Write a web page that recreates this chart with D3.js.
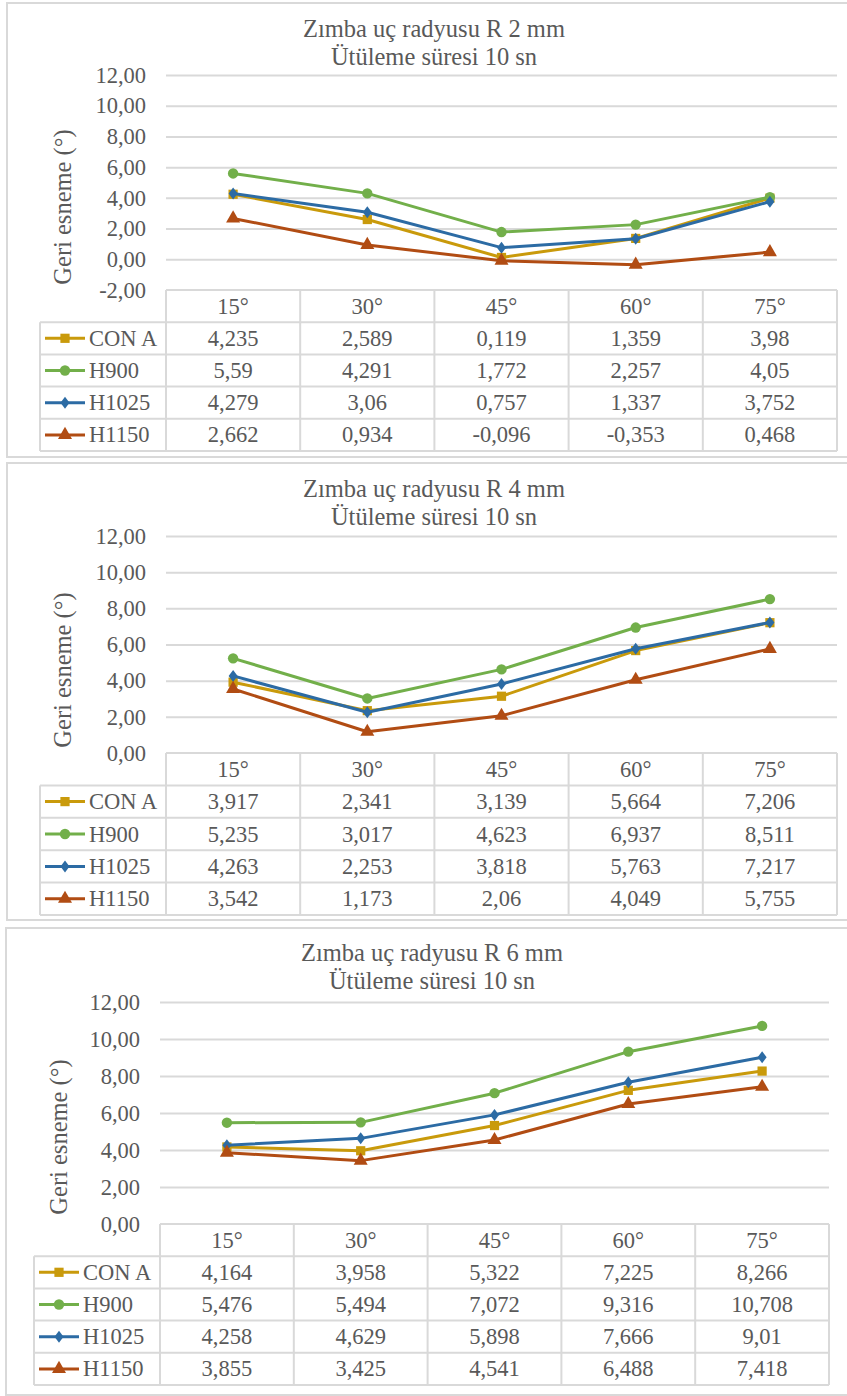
<!DOCTYPE html>
<html>
<head>
<meta charset="utf-8">
<script src="https://cdn.jsdelivr.net/npm/d3@7"></script>
<style>
  html, body { margin: 0; padding: 0; background: #fff; }
  svg { display: block; }
</style>
</head>
<body>
<svg id="chart" width="847" height="1396" font-family="'Liberation Serif', 'Times New Roman', serif"></svg>
<script>
// Springback angle (Geri esneme) by bend angle, for three punch tip radii
const categories = ["15°", "30°", "45°", "60°", "75°"];
const seriesNames = ["CON A", "H900", "H1025", "H1150"];
const seriesColors = ["#C99A0B", "#72AF4A", "#2C6BA4", "#B14C13"];
const seriesMarkers = ["square", "circle", "diamond", "triangle"];

const titlesR2 = ["Zımba uç radyusu R 2 mm", "Ütüleme süresi 10 sn"];
const titlesR4 = ["Zımba uç radyusu R 4 mm", "Ütüleme süresi 10 sn"];
const titlesR6 = ["Zımba uç radyusu R 6 mm", "Ütüleme süresi 10 sn"];
const yAxisTitle = "Geri esneme (°)";

// R 2 mm
const r2ConA  = [4.235, 2.589, 0.119, 1.359, 3.98];
const r2H900  = [5.59, 4.291, 1.772, 2.257, 4.05];
const r2H1025 = [4.279, 3.06, 0.757, 1.337, 3.752];
const r2H1150 = [2.662, 0.934, -0.096, -0.353, 0.468];
const r2Ticks = [-2, 0, 2, 4, 6, 8, 10, 12];

// R 4 mm
const r4ConA  = [3.917, 2.341, 3.139, 5.664, 7.206];
const r4H900  = [5.235, 3.017, 4.623, 6.937, 8.511];
const r4H1025 = [4.263, 2.253, 3.818, 5.763, 7.217];
const r4H1150 = [3.542, 1.173, 2.06, 4.049, 5.755];
const r4Ticks = [0, 2, 4, 6, 8, 10, 12];

// R 6 mm
const r6ConA  = [4.164, 3.958, 5.322, 7.225, 8.266];
const r6H900  = [5.476, 5.494, 7.072, 9.316, 10.708];
const r6H1025 = [4.258, 4.629, 5.898, 7.666, 9.01];
const r6H1150 = [3.855, 3.425, 4.541, 6.488, 7.418];
const r6Ticks = [0, 2, 4, 6, 8, 10, 12];

const locale = d3.formatLocale({ decimal: ",", thousands: ".", grouping: [3], currency: ["", ""], minus: "-" });
const tickFmt = locale.format(".2f");
const valueFmt = v => String(v).replace(".", ",");

const FONT = "'Liberation Serif', 'Times New Roman', serif";
const TEXT = "#595959";
const GRID = "#D9D9D9";
const LABEL_SIZE = "22.5px";
const TITLE_SIZE = "24.5px";
const svg = d3.select("#chart");

function markerPath(type) {
  if (type === "square") return d3.symbol(d3.symbolSquare, 85)();
  if (type === "circle") return d3.symbol(d3.symbolCircle, 85)();
  if (type === "diamond") return "M0,-6L4.5,0L0,6L-4.5,0Z";
  return d3.symbol(d3.symbolTriangle, 85)();
}

function drawPanel(cfg) {
  const g = svg.append("g");

  // chart area frame
  g.append("rect")
    .attr("x", cfg.frame[0]).attr("y", cfg.frame[1])
    .attr("width", cfg.frame[2]).attr("height", cfg.frame[3])
    .attr("fill", "#fff").attr("stroke", GRID).attr("stroke-width", 2);

  const x = d3.scaleBand().domain(categories).range([cfg.left, cfg.right]);
  const y = d3.scaleLinear().domain([cfg.ticks[0], cfg.ticks[cfg.ticks.length - 1]])
    .range([cfg.yBottom, cfg.yTop]);

  // title
  const title = g.append("text").attr("text-anchor", "middle")
    .style("font-size", TITLE_SIZE);
  cfg.titles.forEach((t, i) => {
    title.append("tspan").attr("x", cfg.titleX).attr("y", cfg.titleY + i * 28).text(t);
  });

  // gridlines + tick labels
  const yAxis = d3.axisLeft(y).tickValues(cfg.ticks).tickFormat(tickFmt)
    .tickSize(-(cfg.right - cfg.left)).tickPadding(20);
  const ax = g.append("g").attr("transform", `translate(${cfg.left},0)`).call(yAxis);
  ax.attr("font-family", FONT);
  ax.select(".domain").remove();
  ax.selectAll(".tick line").attr("stroke", GRID).attr("stroke-width", 2);
  ax.selectAll(".tick text")
    .attr("x", cfg.tickRight - cfg.left)
    .style("font-size", LABEL_SIZE);
  // the bottom tick's gridline coincides with the table top
  ax.selectAll(".tick").filter(d => d === cfg.ticks[0]).select("line").remove();

  // y-axis title
  g.append("text")
    .attr("transform", `translate(${cfg.yTitleX},${cfg.yTitleY}) rotate(-90)`)
    .attr("text-anchor", "middle").attr("dominant-baseline", "central")
    .style("font-size", TITLE_SIZE)
    .text(yAxisTitle);

  // data table
  const rowH = cfg.rowH;
  const tTop = cfg.yBottom;
  const nRows = seriesNames.length;
  const tb = g.append("g");
  const lines = [];
  lines.push([cfg.left, tTop, cfg.right, tTop]);
  lines.push([cfg.tableLeft, tTop + rowH, cfg.right, tTop + rowH]);
  for (let r = 2; r <= nRows + 1; r++) lines.push([cfg.tableLeft, tTop + r * rowH, cfg.right, tTop + r * rowH]);
  lines.push([cfg.tableLeft, tTop + rowH, cfg.tableLeft, tTop + (nRows + 1) * rowH]);
  categories.forEach(c => lines.push([x(c), tTop, x(c), tTop + (nRows + 1) * rowH]));
  lines.push([cfg.right, tTop, cfg.right, tTop + (nRows + 1) * rowH]);
  tb.selectAll("line").data(lines).join("line")
    .attr("x1", d => d[0]).attr("y1", d => d[1]).attr("x2", d => d[2]).attr("y2", d => d[3])
    .attr("stroke", GRID).attr("stroke-width", 2);

  // header labels
  tb.selectAll("text.cat").data(categories).join("text").attr("class", "cat")
    .attr("x", d => x(d) + x.bandwidth() / 2).attr("y", tTop + rowH / 2)
    .attr("text-anchor", "middle").attr("dominant-baseline", "central")
    .style("font-size", LABEL_SIZE).text(d => d);

  cfg.series.forEach((vals, si) => {
    const cy = tTop + (si + 1) * rowH + rowH / 2;
    // legend key
    tb.append("line")
      .attr("x1", cfg.tableLeft + 5).attr("x2", cfg.tableLeft + 45)
      .attr("y1", cy).attr("y2", cy)
      .attr("stroke", seriesColors[si]).attr("stroke-width", 3);
    tb.append("path").attr("d", markerPath(seriesMarkers[si]))
      .attr("transform", `translate(${cfg.tableLeft + 25},${cy})`)
      .attr("fill", seriesColors[si]);
    tb.append("text").attr("x", cfg.tableLeft + 49).attr("y", cy)
      .attr("dominant-baseline", "central").style("font-size", LABEL_SIZE)
      .text(seriesNames[si]);
    // values
    tb.selectAll(null).data(vals).join("text")
      .attr("x", (d, i) => x(categories[i]) + x.bandwidth() / 2).attr("y", cy)
      .attr("text-anchor", "middle").attr("dominant-baseline", "central")
      .style("font-size", LABEL_SIZE).text(d => valueFmt(d));
  });

  // series lines and markers
  const line = d3.line().x((d, i) => x(categories[i]) + x.bandwidth() / 2).y(d => y(d));
  cfg.series.forEach((vals, si) => {
    g.append("path").datum(vals).attr("d", line)
      .attr("fill", "none").attr("stroke", seriesColors[si])
      .attr("stroke-width", 3).attr("stroke-linejoin", "round");
    g.selectAll(null).data(vals).join("path")
      .attr("d", markerPath(seriesMarkers[si]))
      .attr("transform", (d, i) => `translate(${x(categories[i]) + x.bandwidth() / 2},${y(d)})`)
      .attr("fill", seriesColors[si]);
  });
}

drawPanel({
  frame: [7, 3, 880, 454],
  left: 166, right: 837, yTop: 75, yBottom: 290, rowH: 32.2,
  tableLeft: 40, tickRight: 146,
  titleX: 434, titleY: 37, titles: titlesR2,
  yTitleX: 62, yTitleY: 207,
  ticks: r2Ticks,
  series: [r2ConA, r2H900, r2H1025, r2H1150]
});

drawPanel({
  frame: [7, 463, 880, 457],
  left: 166, right: 837, yTop: 536, yBottom: 753, rowH: 32.4,
  tableLeft: 40, tickRight: 146,
  titleX: 434, titleY: 497, titles: titlesR4,
  yTitleX: 62, yTitleY: 670,
  ticks: r4Ticks,
  series: [r4ConA, r4H900, r4H1025, r4H1150]
});

drawPanel({
  frame: [6, 928, 880, 467],
  left: 160, right: 829, yTop: 1002, yBottom: 1224, rowH: 32.2,
  tableLeft: 34, tickRight: 140,
  titleX: 432, titleY: 961, titles: titlesR6,
  yTitleX: 58, yTitleY: 1137,
  ticks: r6Ticks,
  series: [r6ConA, r6H900, r6H1025, r6H1150]
});

// uniform typeface and colour for every label
svg.selectAll("text").style("font-family", FONT).attr("fill", TEXT);
</script>
</body>
</html>
